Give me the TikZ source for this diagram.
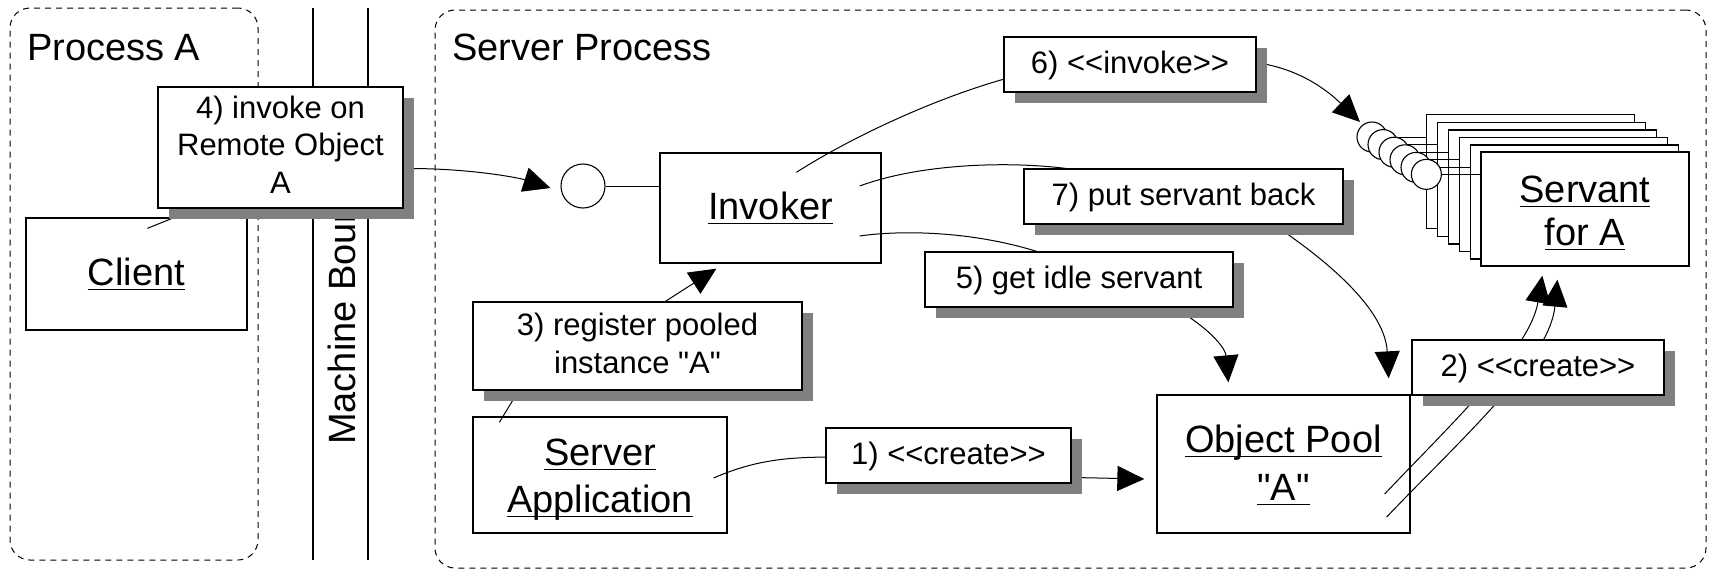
\documentclass[tikz,border=0pt]{standalone}
\usepackage{fontspec}
\newfontfamily\lsans{Liberation Sans}
\usetikzlibrary{arrows.meta,shadows,calc}

\pgfdeclarelayer{boxes}
\pgfdeclarelayer{wires}
\pgfsetlayers{boxes,wires,main}

\definecolor{shadowgray}{RGB}{128,128,128}

\newcommand\bigsans{\lsans\fontsize{38pt}{46pt}\selectfont}
\newcommand\notesans{\lsans\fontsize{31pt}{37.5pt}\selectfont}

% underlined object name with a fixed rule just below the baseline
\newsavebox\objbox
\newcommand\objname[1]{\sbox\objbox{#1}\rlap{\rule[-5.2pt]{\wd\objbox}{1.4pt}}\usebox\objbox}
% centred lines with a given baseline distance; baseline = first line
\newcommand\stacklines[2]{\vtop{\baselineskip=#1\relax\halign{\hfil##\hfil\cr#2\crcr}}}

\begin{document}
\begin{tikzpicture}[x=1pt, y=-1pt,
  container/.style={draw, line width=1pt, dash pattern=on 6pt off 5pt,
                    rounded corners=20pt, inner sep=0pt},
  title/.style={font=\bigsans, inner sep=0pt},
  rail/.style={line width=1.1pt},
  objbox/.style={draw, fill=white, line width=1.3pt, inner sep=0pt, font=\bigsans},
  lollipop/.style={draw, fill=white, circle, line width=1.1pt, inner sep=0pt},
  note/.style={draw, fill=white, line width=1.3pt, inner sep=0pt, font=\notesans,
               text height=23pt, text depth=6pt, minimum height=55pt,
               drop shadow={shadow xshift=11pt, shadow yshift=-11pt,
                            fill=shadowgray, opacity=1}},
  wire/.style={line width=1pt},
  arrowwire/.style={wire, -{Triangle[length=27pt, width=25pt]}}
]
\useasboundingbox (0,0) rectangle (1711,571);

% ---------------- notes (top layer) ----------------
\node[note, minimum width=245pt, minimum height=121pt, text height=22pt, text depth=81pt]
  (n4) at (280.5,147.5) {\stacklines{37.5pt}{4) invoke on\cr Remote Object\cr A}};
\node[note, minimum width=252pt] (n6) at (1130,64.5) {6) <<invoke>>};
\node[note, minimum width=319pt] (n7) at (1183.5,196.5) {7) put servant back};
\node[note, minimum width=308pt] (n5) at (1079,279.5) {5) get idle servant};
\node[note, minimum width=329pt, minimum height=88pt, text height=22pt, text depth=44pt]
  (n3) at (637.5,346) {\stacklines{38pt}{3) register pooled\cr instance "A"}};
\node[note, minimum width=245pt] (n1) at (948.5,455.5) {1) <<create>>};
\node[note, minimum width=252pt] (n2) at (1538,367.5) {2) <<create>>};

% ---------------- processes, boundary and objects ----------------
\begin{pgfonlayer}{boxes}
  \node[container, minimum width=248pt, minimum height=552pt] (procA) at (134,284) {};
  \node[container, minimum width=1271pt, minimum height=558pt] (srvproc) at (1070.5,289) {};
  \node[title, anchor=base west] (procAtitle) at (27,60) {Process A};
  \node[title, anchor=base west] (srvtitle) at (452,60) {Server Process};

  \draw[rail] (313,8) -- (313,560);
  \draw[rail] (368,8) -- (368,560);
  \node[title, rotate=90, anchor=base west] (boundary) at (355,445) {Machine Boundary};

  \node[objbox, minimum width=221pt, minimum height=112pt, text height=28pt, text depth=6pt]
    (client) at (136.5,274) {\objname{Client}};
  \node[lollipop, minimum size=44pt] (iface) at (583,186) {};
  \node[objbox, minimum width=221pt, minimum height=110pt, text height=28pt, text depth=6pt]
    (invoker) at (770.5,208) {\objname{Invoker}};
  \node[objbox, minimum width=254pt, minimum height=116pt, text height=28pt, text depth=48pt]
    (serverapp) at (600,475) {\stacklines{47pt}{\objname{Server}\cr\objname{Application}}};
  \node[objbox, minimum width=253pt, minimum height=138pt, text height=28pt, text depth=52pt]
    (pool) at (1283.5,464) {\stacklines{48pt}{\objname{Object Pool}\cr\objname{"A"}}};

  % stack of pooled servants, each with its own interface
  \foreach \i in {0,...,4}
    \node[objbox, minimum width=208pt, minimum height=114pt, anchor=north west]
      (serv\i) at ({1426+11*\i},{114+7.6*\i}) {};
  \node[objbox, minimum width=208pt, minimum height=114pt, text height=28pt, text depth=42pt]
    (serv5) at (1585,209) {\stacklines{43pt}{\objname{Servant}\cr\objname{for A}}};
  \foreach \i in {0,...,5}
    \draw[wire] ($(serv\i.north west)+(-54,23)$) -- ($(serv\i.north west)+(0,23)$);
  \foreach \i in {0,...,5}
    \node[lollipop, minimum size=30pt] (lp\i) at ($(serv\i.north west)+(-54,23)$) {};
\end{pgfonlayer}

% ---------------- connectors ----------------
\begin{pgfonlayer}{wires}
  % client -- note 4 -- invoker interface
  \draw[wire] ($(client.north west)+(122,11)$) -- ($(n4.south west)+(44,-2)$);
  \draw[arrowwire] ($(n4.east)+(0,21)$)
    .. controls ($(iface.west)+(-91,-18)$) and ($(iface.west)+(-41,-8)$)
    .. ($(iface.west)+(-10,2)$);
  \draw[wire] (iface.east) -- (iface.east -| invoker.west);

  % server application registers the pool with the invoker
  \draw[wire] ($(serverapp.north west)+(27,6)$) -- ($(n3.south west)+(53,-11)$);
  \draw[arrowwire] ($(n3.north)+(3,16)$) -- ($(invoker.south west)+(57,5)$);

  % server application creates the pool
  \draw[wire] ($(serverapp.east)+(-14,3)$)
    .. controls ($(n1.west)+(-66,2.5)$) and ($(n1.west)+(-31,1.5)$)
    .. ($(n1.west)+(15,1.5)$);
  \draw[arrowwire] ($(n1.east)+(-21,21.5)$) -- ($(pool.west)+(-12,15)$);

  % pool creates the servants
  \draw[arrowwire] ($(pool.east)+(-26,30)$)
    .. controls (1450,425) and (1530,350) .. ($(serv5.south west)+(62,9)$);
  \draw[arrowwire] ($(pool.east)+(-24,53)$)
    .. controls (1460,440) and (1550,360) .. ($(serv5.south west)+(77,13)$);

  % invoker: get idle servant
  \draw[wire] ($(invoker.east)+(-22,28)$)
    .. controls (900,230) and (980,230) .. ($(n5.north west)+(130,6)$);
  \draw[arrowwire] ($(n5.south east)+(-73,-7)$)
    .. controls (1200,320) and (1225,345) .. ($(pool.north west)+(72,-12)$);

  % invoker: invoke the servant
  \draw[wire] ($(invoker.north west)+(137,20)$)
    .. controls (850,138) and (940,95) .. ($(n6.west)+(16,10.5)$);
  \draw[arrowwire] ($(n6.east)+(-6,-2.5)$)
    .. controls (1300,67) and (1330,93) .. ($(lp0.center)+(-12,-15)$);

  % invoker: put servant back
  \draw[wire] ($(invoker.east)+(-22,-22)$)
    .. controls (930,160) and (1040,160) .. ($(n7.north west)+(76,6)$);
  \draw[arrowwire] ($(n7.south east)+(-73,-2)$)
    .. controls (1330,262) and (1385,310) .. ($(pool.north east)+(-22,-16)$);
\end{pgfonlayer}
\end{tikzpicture}
\end{document}
